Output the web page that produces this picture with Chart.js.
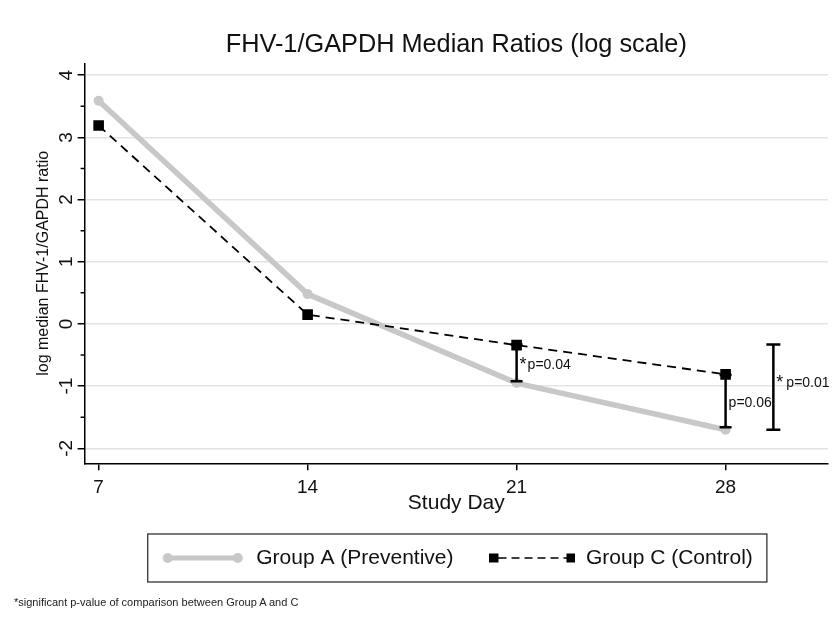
<!DOCTYPE html>
<html>
<head>
<meta charset="utf-8">
<title>FHV-1/GAPDH Median Ratios</title>
<script src="https://cdn.jsdelivr.net/npm/chart.js@4.4.0/dist/chart.umd.min.js"></script>
<style>
  html, body { margin: 0; padding: 0; background: #fff; }
  #wrap { position: relative; width: 839px; height: 617px; }
  #note {
    position: absolute; left: 14px; top: 596px;
    font: 11px 'Liberation Sans', Arial, sans-serif; line-height: 13px;
    color: #222; white-space: nowrap;
  }
</style>
</head>
<body>
<div id="wrap">
  <canvas id="ratioChart" width="839" height="617"></canvas>
  <div id="note">*significant p-value of comparison between Group A and C</div>
</div>
<script>
const studyDays = [7, 14, 21, 28];
const groupA = [3.59, 0.48, -0.95, -1.7];
const groupC = [3.19, 0.15, -0.34, -0.81];
const yTicks = [-2, -1, 0, 1, 2, 3, 4];
const yMinorTicks = [-1.5, -0.5, 0.5, 1.5, 2.5, 3.5];

// comparison bars between the groups (day, upper end, lower end, label)
const barDays = [21, 28, 29.6];
const barHigh = [-0.33, -0.82, -0.33];
const barLow = [-0.92, -1.66, -1.7];
const barStars = ['*', '', '*'];
const barTexts = ['p=0.04', 'p=0.06', 'p=0.01'];

const FONT = "'Liberation Sans', Arial, sans-serif";
Chart.defaults.font.family = FONT;
Chart.defaults.color = '#111';

function makeSymbol(draw) {
    const c = document.createElement('canvas');
    c.width = 86;
    c.height = 14;
    draw(c.getContext('2d'));
    return c;
}

const symbolA = makeSymbol(ctx => {
    ctx.strokeStyle = '#c8c8c8';
    ctx.fillStyle = '#c8c8c8';
    ctx.lineWidth = 5;
    ctx.beginPath();
    ctx.moveTo(8, 7);
    ctx.lineTo(78, 7);
    ctx.stroke();
    [8, 78].forEach(x => {
        ctx.beginPath();
        ctx.arc(x, 7, 5, 0, Math.PI * 2);
        ctx.fill();
    });
});

const symbolC = makeSymbol(ctx => {
    ctx.fillStyle = '#000';
    ctx.fillRect(0, 2.5, 9, 9);
    ctx.fillRect(77, 2.5, 9, 9);
    ctx.strokeStyle = '#000';
    ctx.lineWidth = 1.6;
    ctx.setLineDash([8, 5]);
    ctx.beginPath();
    ctx.moveTo(9, 7);
    ctx.lineTo(77, 7);
    ctx.stroke();
});

const legendSymbols = [symbolA, symbolC];

// minor ticks on the y axis, p-value bars and the legend frame
const extras = {
    id: 'extras',
    afterDatasetsDraw(chart) {
        const {ctx, scales: {x, y}} = chart;
        ctx.save();
        ctx.strokeStyle = '#000';
        ctx.lineWidth = 2.5;
        barDays.forEach((d, i) => {
            const px = x.getPixelForValue(d);
            const top = y.getPixelForValue(barHigh[i]);
            const bot = y.getPixelForValue(barLow[i]);
            const cap = i === 2 ? 7 : 6;
            ctx.beginPath();
            ctx.moveTo(px, top);
            ctx.lineTo(px, bot);
            ctx.moveTo(px - cap, top);
            ctx.lineTo(px + cap, top);
            ctx.moveTo(px - cap, bot);
            ctx.lineTo(px + cap, bot);
            ctx.stroke();

            const ty = (top + bot) / 2 + (i === 2 ? -4 : 2);
            let tx = px + 3;
            ctx.fillStyle = '#111';
            ctx.textBaseline = 'middle';
            ctx.textAlign = 'left';
            if (barStars[i]) {
                ctx.font = '18px ' + FONT;
                ctx.fillText(barStars[i], tx, ty);
                tx += ctx.measureText(barStars[i]).width + (i === 2 ? 3 : 1);
            }
            ctx.font = '14px ' + FONT;
            ctx.fillText(barTexts[i], tx, ty);
        });
        ctx.restore();
    },
    afterDraw(chart) {
        const {ctx, scales: {y}} = chart;
        ctx.save();
        ctx.strokeStyle = '#000';
        ctx.lineWidth = 1.5;
        const ax = chart.chartArea.left;
        ctx.beginPath();
        yMinorTicks.forEach(v => {
            const py = y.getPixelForValue(v);
            ctx.moveTo(ax - 4, py);
            ctx.lineTo(ax, py);
        });
        ctx.stroke();

        const hb = chart.legend.legendHitBoxes;
        if (hb && hb.length) {
            const last = hb[hb.length - 1];
            const left = hb[0].left - 12;
            const right = last.left + last.width + 14;
            const cy = hb[0].top + hb[0].height / 2;
            ctx.strokeStyle = '#333';
            ctx.lineWidth = 1.3;
            ctx.strokeRect(left, cy - 24, right - left, 48);
        }
        ctx.restore();
    }
};

const ctx = document.getElementById('ratioChart').getContext('2d');
const ratioChart = new Chart(ctx, {
    type: 'line',
    data: {
        datasets: [
            {
                label: 'Group A (Preventive)',
                data: studyDays.map((d, i) => ({x: d, y: groupA[i]})),
                borderColor: '#c8c8c8',
                backgroundColor: '#c8c8c8',
                borderWidth: 5.5,
                borderCapStyle: 'round',
                pointRadius: 5,
                pointBorderWidth: 0,
                pointBackgroundColor: '#c8c8c8',
                tension: 0,
                order: 2
            },
            {
                label: 'Group C (Control)',
                data: studyDays.map((d, i) => ({x: d, y: groupC[i]})),
                borderColor: '#000',
                backgroundColor: '#000',
                borderWidth: 1.8,
                borderDash: [9, 6],
                pointStyle: 'rect',
                pointRadius: 7.5,
                pointBorderWidth: 0,
                pointBackgroundColor: '#000',
                tension: 0,
                order: 1
            }
        ]
    },
    options: {
        responsive: false,
        animation: false,
        layout: {
            padding: {top: 0, left: 33.9, right: 11, bottom: 38.5}
        },
        plugins: {
            title: {
                display: true,
                fullSize: false,
                text: 'FHV-1/GAPDH Median Ratios (log scale)',
                color: '#111',
                font: {size: 25.3, weight: 'normal'},
                padding: {top: 30, bottom: 3}
            },
            legend: {
                position: 'bottom',
                fullSize: false,
                labels: {
                    color: '#111',
                    font: {size: 21},
                    usePointStyle: true,
                    pointStyleWidth: 86,
                    padding: 36,
                    generateLabels: chart => chart.data.datasets.map((ds, i) => ({
                        text: ds.label,
                        datasetIndex: i,
                        pointStyle: legendSymbols[i],
                        hidden: false,
                        lineWidth: 0,
                        fontColor: '#111'
                    }))
                },
                onClick: null
            },
            tooltip: {enabled: false}
        },
        scales: {
            x: {
                type: 'linear',
                min: 6.53,
                max: 31.43,
                afterBuildTicks: scale => {
                    scale.ticks = studyDays.map(v => ({value: v}));
                },
                grid: {
                    drawOnChartArea: false,
                    tickColor: '#000',
                    tickLength: 7,
                    lineWidth: 1.5
                },
                border: {color: '#000', width: 1.5},
                ticks: {
                    font: {size: 19},
                    color: '#111',
                    padding: 5.6,
                    maxRotation: 0,
                    autoSkip: false
                },
                title: {
                    display: true,
                    text: 'Study Day',
                    color: '#111',
                    font: {size: 21},
                    padding: {top: -14, bottom: -4}
                }
            },
            y: {
                type: 'linear',
                min: -2.24,
                max: 4.19,
                afterBuildTicks: scale => {
                    scale.ticks = yTicks.map(v => ({value: v}));
                },
                grid: {
                    color: '#e3e3e3',
                    lineWidth: 1.5,
                    tickColor: '#000',
                    tickLength: 7
                },
                border: {color: '#000', width: 1.5},
                ticks: {
                    font: {size: 19},
                    color: '#111',
                    padding: 2.6,
                    minRotation: 90,
                    maxRotation: 90,
                    crossAlign: 'center'
                },
                title: {
                    display: true,
                    text: 'log median FHV-1/GAPDH ratio',
                    color: '#111',
                    font: {size: 16},
                    padding: {top: 0, bottom: -3.5}
                }
            }
        }
    },
    plugins: [extras]
});
</script>
</body>
</html>
